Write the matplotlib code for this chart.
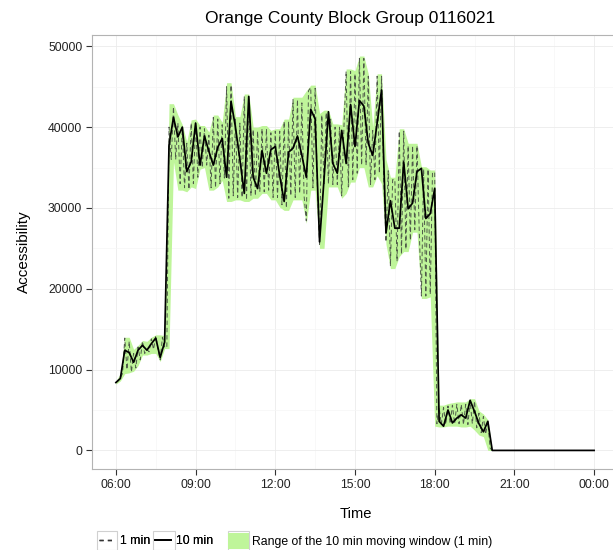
import matplotlib
matplotlib.use("Agg")
import matplotlib.pyplot as plt
import numpy as np
from matplotlib.lines import Line2D
from matplotlib.patches import Patch, Rectangle

plt.rcParams['font.family'] = ['Liberation Sans', 'DejaVu Sans']

# 10-minute series, one value every 10 minutes from 06:00 to 24:00
accessibility_10min = [
    8400, 8900, 12400, 12100, 10900, 12400, 13000, 12400, 13200, 13900, 11500, 13400,
    37800, 41200, 38800, 40000, 34500, 35700, 40500, 35300, 38900, 37000, 35300, 37500,
    38600, 33800, 43200, 40000, 36000, 31800, 43800, 33800, 32400, 37100, 34300, 37200,
    37600, 34000, 30800, 36900, 37400, 38900, 36500, 33800, 42200, 41000, 25800, 33500,
    41900, 35500, 34300, 39600, 35500, 42800, 37600, 43300, 42600, 38000, 36500, 40500,
    44600, 26900, 30900, 27500, 27500, 35700, 29900, 30600, 34500, 34900, 28700, 29300,
    32400, 3600, 3000, 5000, 3400, 4000, 4400, 4000, 6200, 4800, 3300, 2300,
    3600, 0, 0, 0, 0, 0, 0, 0, 0, 0, 0, 0,
    0, 0, 0, 0, 0, 0, 0, 0, 0, 0, 0, 0, 0,
]

# Range of the 10 min moving window (1-min data), every 10 minutes from 06:00 to 20:10
band_low = [
    8200, 8600, 9500, 9600, 9800, 10500, 11800, 11800, 12000, 12000, 11000, 12600,
    12600, 35700, 32200, 32200, 32000, 32600, 32400, 34800, 35000, 32200, 32200, 32600,
    33400, 30800, 30800, 31000, 31000, 30800, 30800, 31200, 31200, 31800, 31800, 31000,
    31000, 30100, 29700, 29700, 31000, 31000, 31000, 28100, 32200, 32200, 25000, 25000,
    32600, 32600, 32600, 31200, 31800, 33200, 33200, 35000, 35000, 32600, 32600, 34000,
    33000, 25500, 22500, 22500, 24000, 24600, 24600, 27000, 27000, 18800, 18800, 19000,
    3000, 2900, 2900, 3000, 3000, 3000, 2900, 2900, 3000, 2500, 1900, 1700,
    0, 0,
]
band_high = [
    8600, 9500, 14000, 14000, 12500, 13000, 13600, 13500, 14000, 14300, 14300, 14200,
    42900, 42900, 41500, 40300, 38200, 40900, 41000, 40200, 40200, 39400, 41500, 41500,
    40600, 45500, 45500, 41300, 41300, 44100, 44100, 40000, 40000, 40200, 40200, 39600,
    39800, 39800, 41000, 41000, 43700, 43700, 43700, 44500, 45200, 45200, 41700, 42100,
    42100, 40400, 40400, 40300, 47200, 47200, 47000, 48800, 48800, 46600, 40000, 46600,
    46600, 36000, 33800, 33800, 39800, 39800, 38000, 38000, 38000, 35100, 35100, 34700,
    34700, 5600, 5600, 5800, 5900, 6000, 6000, 6000, 6400, 6400, 4900, 4500,
    3800, 0,
]

# 1-minute series, sampled every 5 minutes from 06:00 to 20:15
accessibility_1min = [
    8400, 8600, 9000, 9500, 13900, 10000, 13500, 9700, 12000, 10200, 12800, 11200,
    13500, 12000, 12500, 12200, 13800, 12500, 14200, 12500, 11200, 14000, 12800, 12700,
    40000, 36000, 42500, 36000, 40500, 33000, 40000, 32500, 38000, 32300, 40500, 33000,
    40700, 33800, 40000, 35000, 39800, 35300, 39000, 32500, 41200, 32500, 41000, 33000,
    40300, 33700, 45000, 31200, 45200, 31500, 41000, 31300, 40500, 31300, 43800, 31000,
    43800, 31500, 39700, 31500, 39500, 32000, 39800, 32000, 39800, 32200, 39300, 31300,
    39500, 31300, 39500, 30400, 40700, 30000, 40700, 31500, 43400, 31300, 43400, 31800,
    43000, 31500, 28400, 44500, 44900, 32500, 44800, 32500, 25300, 41500, 33000, 41800,
    33000, 41000, 32900, 40000, 32900, 40000, 31500, 40000, 46900, 32600, 46900, 33500,
    46600, 34300, 48500, 35300, 48500, 35300, 46300, 32900, 39600, 33500, 46300, 34300,
    46300, 33300, 25800, 34600, 22800, 33500, 33500, 23400, 39500, 24300, 39500, 24900,
    37700, 26000, 37700, 27300, 37700, 27300, 19100, 34800, 19100, 34800, 19300, 34400,
    34400, 3300, 5300, 3200, 5300, 3200, 5500, 3300, 5600, 3300, 5700, 3300,
    5700, 3200, 5700, 3200, 6100, 3300, 6100, 2800, 4600, 2200, 4200, 2000,
    3500, 300, 0, 0,
]

tick_hours = [6, 9, 12, 15, 18, 21, 24]
tick_labels = ['06:00', '09:00', '12:00', '15:00', '18:00', '21:00', '00:00']
y_ticks = [0, 10000, 20000, 30000, 40000, 50000]

t10 = 6 + np.arange(len(accessibility_10min)) / 6.0
tband = 6 + np.arange(len(band_low)) / 6.0
t1 = 6 + np.arange(len(accessibility_1min)) / 12.0

W, H = 613, 550
fig = plt.figure(figsize=(W / 100, H / 100), dpi=100)
ax = fig.add_axes([92 / W, 81 / H, 526 / W, 434 / H])

ax.fill_between(tband, band_low, band_high, color='#bff59a', lw=0, zorder=1)
ax.plot(t1, accessibility_1min, color='#4f5a4a', lw=0.7, dashes=(4.5, 3), zorder=2)
ax.plot(t10, accessibility_10min, color='black', lw=1.25, zorder=3)

ax.set_xlim(5.1, 24.9)
ax.set_ylim(-2300, 51400)
ax.set_xticks(tick_hours)
ax.set_xticklabels(tick_labels)
ax.set_yticks(y_ticks)
ax.set_yticklabels([str(v) for v in y_ticks])
ax.set_xticks([h + 1.5 for h in tick_hours[:-1]], minor=True)
ax.set_yticks([v + 5000 for v in y_ticks[:-1]], minor=True)
ax.set_axisbelow(True)
ax.grid(which='major', color='#ebebeb', lw=0.6)
ax.grid(which='minor', color='#f6f6f6', lw=0.5)
ax.tick_params(which='minor', length=0)
ax.tick_params(which='major', length=4, width=0.8, color='#333333',
               labelsize=8.8, labelcolor='#222222', pad=3)
for s in ax.spines.values():
    s.set_color('#b3b3b3')
    s.set_linewidth(0.8)

fig.text(350 / W, 1 - 18 / H, 'Orange County Block Group 0116021',
         ha='center', va='center', fontsize=12.5)
fig.text(24 / W, 1 - 252 / H, 'Accessibility', rotation=90,
         ha='center', va='center', fontsize=11)
fig.text(356 / W, 1 - 514 / H, 'Time', ha='center', va='center', fontsize=10.6)

# legend key boxes (ggplot-style outlined keys)
for x0, x1 in [(97, 117), (153, 175), (228, 249)]:
    fig.add_artist(Rectangle((x0 / W, 0), (x1 - x0) / W, 19 / H,
                             transform=fig.transFigure, facecolor='white',
                             edgecolor='#d0d0d0', lw=0.8, zorder=0))

h1 = [Line2D([], [], color='#333333', lw=1.0, dashes=(3, 3)),
      Line2D([], [], color='black', lw=1.3)]
leg1 = fig.legend(h1, ['1 min', '10 min'], loc='center left',
                  bbox_to_anchor=(99 / W, 9 / H), ncol=2, frameon=False,
                  fontsize=8.8, handlelength=1.3, handletextpad=0.45,
                  columnspacing=0.35, borderpad=0, borderaxespad=0)
fig.add_artist(leg1)
h2 = [Patch(facecolor='#bff59a', edgecolor='none')]
fig.legend(h2, ['Range of the 10 min moving window (1 min)'], loc='center left',
           bbox_to_anchor=(228 / W, 9 / H), frameon=False, fontsize=8.8,
           handlelength=1.75, handleheight=1.6, handletextpad=0.25,
           borderpad=0, borderaxespad=0)

fig.savefig('out.png', dpi=100)
